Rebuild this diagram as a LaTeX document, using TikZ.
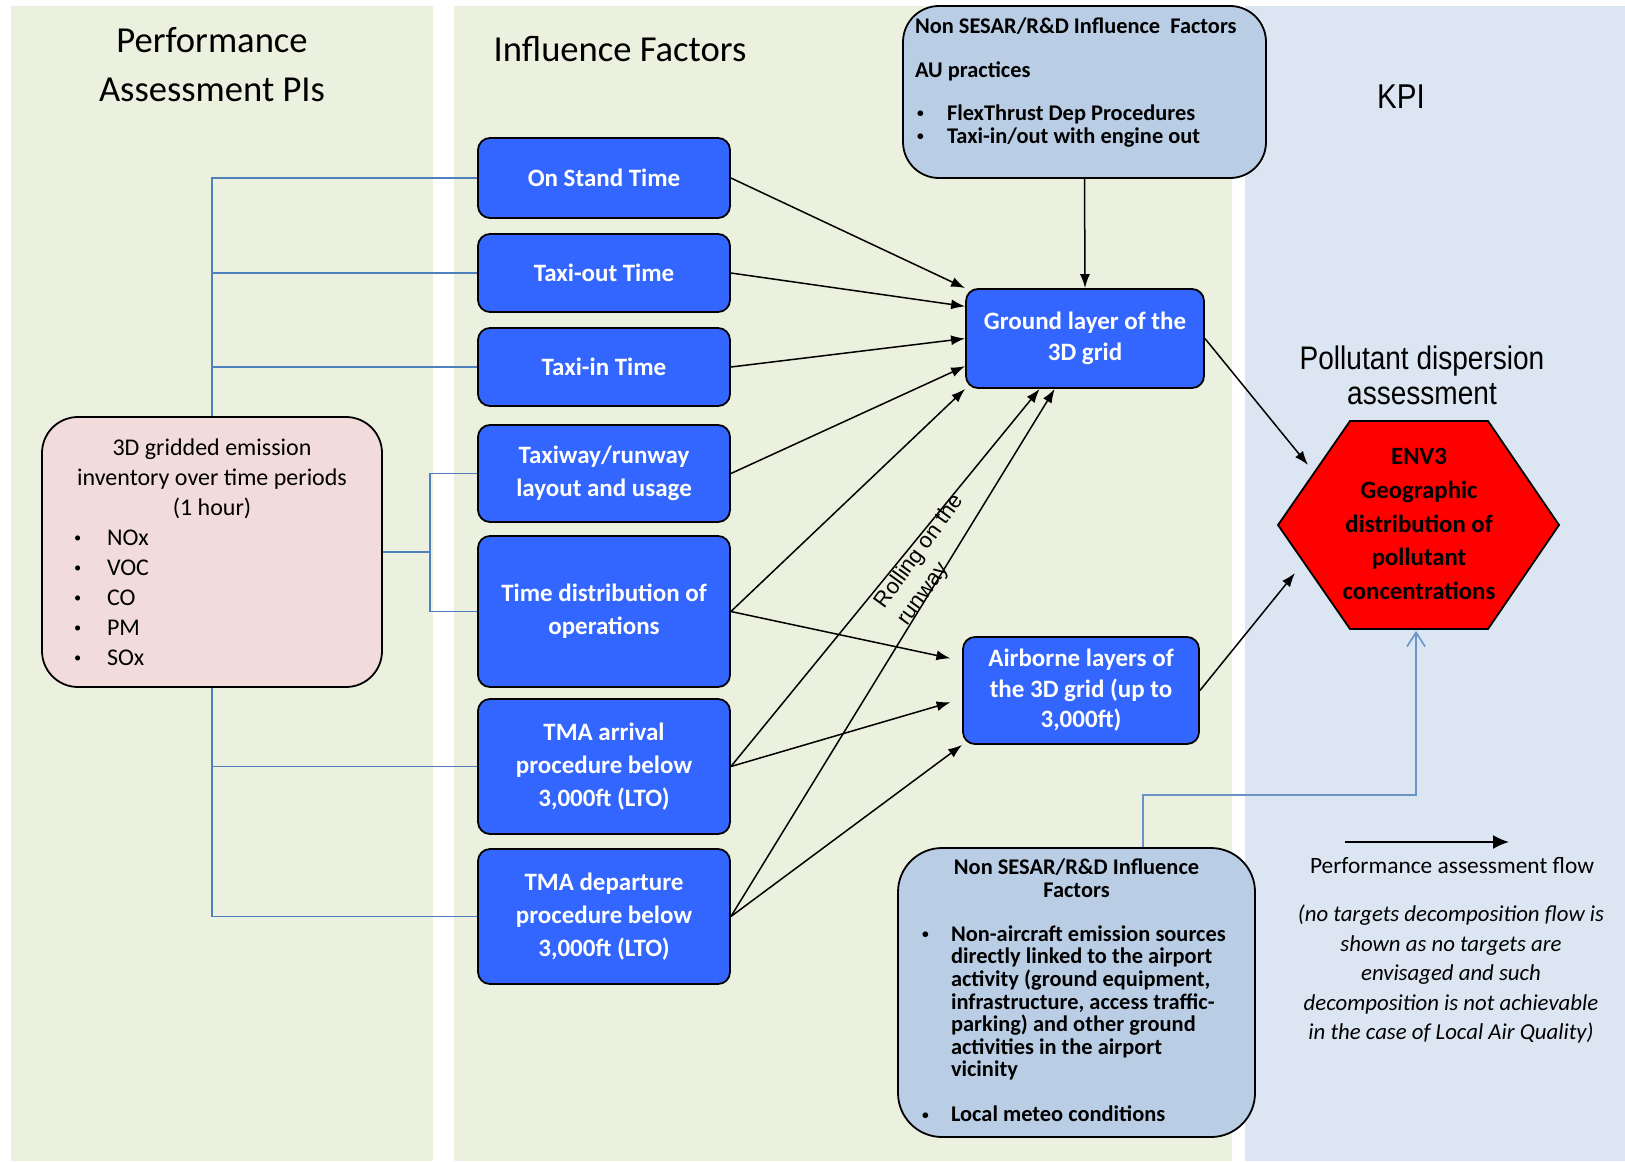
\documentclass[tikz,border=0pt]{standalone}
\usepackage{fontspec}
\setmainfont{Carlito}
\newfontfamily\arialfont{Liberation Sans}
\newfontfamily\arialnarrow{Liberation Sans}[FakeStretch=0.86]
\usetikzlibrary{calc}
\usetikzlibrary{arrows.meta}
\definecolor{panelgreen}{HTML}{EBF1DE}
\definecolor{panelblue}{HTML}{DCE6F2}
\definecolor{factorblue}{HTML}{3366FF}
\definecolor{notefill}{HTML}{B9CDE5}
\definecolor{inventorypink}{HTML}{F2DCDB}
\definecolor{treeblue}{HTML}{4F81BD}
\tikzstyle{factorbox}=[draw=black,line width=0.9pt,fill=factorblue,rounded corners=6pt,text=white,align=center,minimum width=126pt,inner sep=2pt,font=\fontsize{12.5pt}{16.5pt}\selectfont\bfseries]
\tikzstyle{layerbox}=[factorbox,minimum width=119pt,font=\fontsize{12.5pt}{15.3pt}\selectfont\bfseries]
\tikzstyle{notebox}=[draw=black,line width=0.9pt,fill=notefill,rounded corners=18pt,inner sep=0pt,font=\fontsize{11.2pt}{11.3pt}\selectfont\bfseries]
\tikzstyle{flow}=[-{Latex[length=7pt,width=5pt]},line width=0.75pt]
\tikzstyle{treeline}=[treeblue,line width=0.8pt]
\newcommand{\headfont}{\fontsize{18.3pt}{24.5pt}\selectfont}
\newcommand{\notebullet}[1][15pt]{\makebox[#1][l]{\raisebox{0.25ex}{\scalebox{0.6}{\textbullet}}}} % small bullet plus the gap after it

\begin{document}
\begin{tikzpicture}[x=0.5pt,y=-0.5pt] % one unit = one pixel of the original
\useasboundingbox (0,0) rectangle (1625,1161);
% columns
\fill[panelgreen] (11,6) rectangle (433,1161);
\fill[panelgreen] (454,6) rectangle (1232,1161);
\fill[panelblue] (1245,6) rectangle (1625,1161);

\node[font=\headfont,align=center] (pititle) at (212,65) {Performance\\Assessment PIs};
\node[font=\headfont,anchor=base] (iftitle) at (620,62) {Influence Factors};
\node[font=\arialnarrow\fontsize{17.2pt}{20pt}\selectfont,anchor=base] (kpititle) at (1401,109) {KPI};
\node[font=\arialnarrow\fontsize{16.3pt}{17.5pt}\selectfont,align=center] (disptitle) at (1422,375) {Pollutant dispersion\\assessment};

% influence factors
\node[factorbox,minimum height=40pt] (onstand) at (604,178) {On Stand Time};
\node[factorbox,minimum height=39pt] (taxiout) at (604,273) {Taxi-out Time};
\node[factorbox,minimum height=39pt] (taxiin) at (604,367) {Taxi-in Time};
\node[factorbox,minimum height=48.5pt] (layout) at (604,473.5) {Taxiway/runway\\layout and usage};
\node[factorbox,minimum height=75.5pt] (timedist) at (604,611.5) {Time distribution of\\operations};
\node[factorbox,minimum height=67.5pt] (tmaarr) at (604,766.5) {TMA arrival\\procedure below\\3,000ft (LTO)};
\node[factorbox,minimum height=67.5pt] (tmadep) at (604,916.5) {TMA departure\\procedure below\\3,000ft (LTO)};

\node[layerbox,minimum height=49.5pt] (ground) at (1085,338.5) {Ground layer of the\\3D grid};
\node[layerbox,minimum width=118pt,minimum height=53.5pt] (airborne) at (1081,690.5) {Airborne layers of\\the 3D grid (up to\\3,000ft)};

\node[draw=black,line width=0.9pt,fill=inventorypink,rounded corners=18pt,minimum width=170pt,minimum height=135pt,inner sep=0pt,font=\fontsize{12pt}{15pt}\selectfont] (inventory) at (212,552) {%
\begin{minipage}{150pt}
{\centering 3D gridded emission\\inventory over time periods\\(1 hour)\par}
\raggedright
\hspace*{6pt}\notebullet[16.5pt]NOx\\
\hspace*{6pt}\notebullet[16.5pt]VOC\\
\hspace*{6pt}\notebullet[16.5pt]CO\\
\hspace*{6pt}\notebullet[16.5pt]PM\\
\hspace*{6pt}\notebullet[16.5pt]SOx\par
\end{minipage}};

\node[notebox,minimum width=181.5pt,minimum height=86pt] (nonsesartop) at (1084.5,92) {%
\begin{minipage}[c][86pt][t]{169.5pt}
\vspace*{6pt}
\raggedright
Non SESAR/R\&D Influence\ \ Factors\\[10.7pt]
AU practices\\[10.1pt]
\hspace*{1pt}\notebullet FlexThrust Dep Procedures\\
\hspace*{1pt}\notebullet Taxi-in/out with engine out\par
\end{minipage}};

\node[notebox,rounded corners=22pt,minimum width=178.5pt,minimum height=144.5pt] (nonsesarbot) at (1076.5,992.5) {%
\begin{minipage}[c][144.5pt][t]{162.5pt}
\vspace*{5.5pt}
\raggedright
{\centering Non SESAR/R\&D Influence\\Factors\par}
\vspace{10.7pt}
{\leftskip=18.5pt\noindent\llap{\notebullet[14.5pt]}Non-aircraft emission sources\\directly linked to the airport\\activity (ground equipment,\\infrastructure, access traffic-\\parking) and other ground\\activities in the airport\\vicinity\par}
\vspace{11.2pt}
{\leftskip=18.5pt\noindent\llap{\notebullet[14.5pt]}Local meteo conditions\par}
\end{minipage}};

% KPI hexagon
\coordinate (hexw) at (1278,525);
\coordinate (hexnw) at (1350,421);
\coordinate (hexne) at (1488,421);
\coordinate (hexe) at (1559,525);
\coordinate (hexse) at (1488,629);
\coordinate (hexsw) at (1350,629);
\draw[fill=red,line width=0.9pt] (hexw) -- (hexnw) -- (hexne) -- (hexe) -- (hexse) -- (hexsw) -- cycle;
\node[font=\fontsize{12.4pt}{16.9pt}\selectfont\bfseries,align=center] (env3) at (1419,524) {ENV3\\Geographic\\distribution of\\pollutant\\concentrations};
\coordinate (envin1) at (1308,465);
\coordinate (envin2) at (1295,573);
\coordinate (envbottom) at (1416,631);

% decomposition of the PI
\draw[treeline] (inventory.north) |- (onstand.west);
\draw[treeline] (inventory.north) |- (taxiout.west);
\draw[treeline] (inventory.north) |- (taxiin.west);
\coordinate (fork) at ($(inventory.east)!0.5!(inventory.east -| layout.west)$);
\draw[treeline] (inventory.east) -- (fork) |- (layout.west);
\draw[treeline] (fork) |- (timedist.west);
\draw[treeline] (inventory.south) |- (tmaarr.west);
\draw[treeline] (inventory.south) |- (tmadep.west);

% assessment flow
\draw[flow] (onstand.east) -- (ground.north west);
\draw[flow] (taxiout.east) -- (ground.165);
\draw[flow] (taxiin.east) -- (ground.west);
\draw[flow] (layout.east) -- (ground.193);
\draw[flow] (timedist.east) -- (ground.south west);
\draw[flow,shorten >=6pt] (timedist.east) -- (airborne.166);
\draw[flow] (tmaarr.east) -- (ground.228);
\draw[flow,shorten >=6pt] (tmaarr.east) -- (airborne.184);
\draw[flow] (tmadep.east) -- (ground.239);
\draw[flow] (tmadep.east) -- (airborne.south west);
\draw[flow] (nonsesartop.south) -- (ground.north);
\draw[flow] (ground.east) -- (envin1);
\draw[flow] (airborne.east) -- (envin2);
\draw[treeline,treeblue!85,-{Straight Barb[length=7pt,width=9pt]}] ($(nonsesarbot.north)+(66.5,0)$) -- ++(0,-52) -| (envbottom);

\node[rotate=54,align=left,font=\arialfont\fontsize{11pt}{14pt}\selectfont] (rolling) at (931,560) {Rolling on the\\runway};

% legend
\coordinate (legendfrom) at (1345,842);
\coordinate (legendto) at (1509,842);
\draw[-{Latex[length=8pt,width=7pt]},line width=0.9pt] (legendfrom) -- (legendto);
\node[font=\fontsize{11.7pt}{14pt}\selectfont,anchor=base] (legend) at (1452,873) {Performance assessment flow};
\node[font=\fontsize{11.4pt}{14.75pt}\selectfont\itshape,align=center] (legendnote) at (1451,974) {(no targets decomposition flow is\\shown as no targets are\\envisaged and such\\decomposition is not achievable\\in the case of Local Air Quality)};
\end{tikzpicture}
\end{document}
